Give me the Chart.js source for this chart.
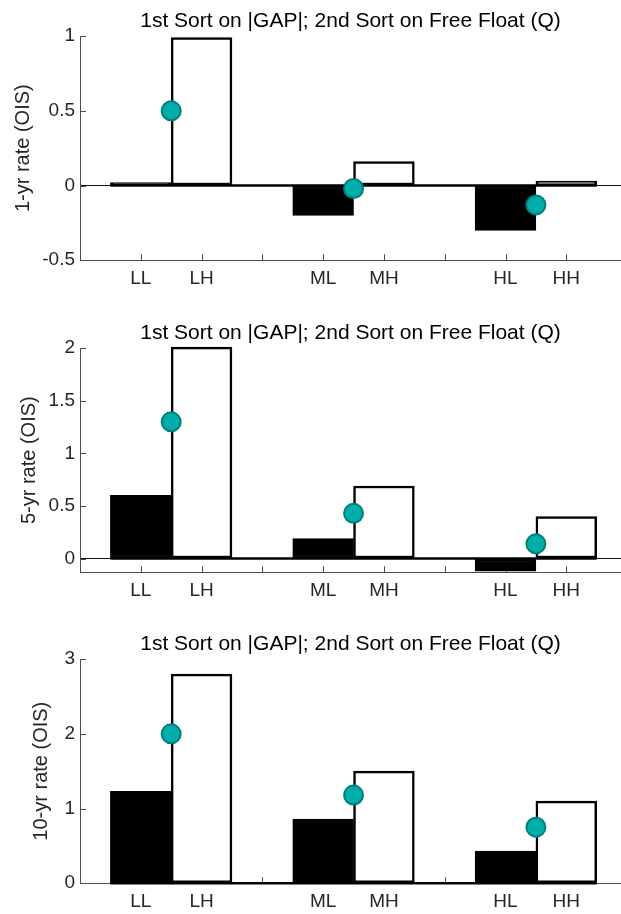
<!DOCTYPE html>
<html><head><meta charset="utf-8">
<script src="https://cdn.jsdelivr.net/npm/chart.js@4/dist/chart.umd.min.js"></script>
<style>
html,body{margin:0;padding:0;background:#fff;overflow:hidden;width:621px;height:914px;}
.panel{position:absolute;left:0;width:621px;height:297px;}
</style></head><body>
<div class="panel" style="top:0px"><canvas id="c1"></canvas></div>
<div class="panel" style="top:312px"><canvas id="c2"></canvas></div>
<div class="panel" style="top:623px"><canvas id="c3"></canvas></div>
<script>
// ---- data ----
const titleText = '1st Sort on |GAP|; 2nd Sort on Free Float (Q)';
const groups = ['L', 'M', 'H'];
const xTickPositions = [1, 2, 3, 4, 5, 6, 7, 8];
const xTickLabels = ['LL', 'LH', '', 'ML', 'MH', '', 'HL', 'HH'];

const yLabel1 = '1-yr rate (OIS)';
const lowFloat1 = [0.02, -0.20, -0.30];
const highFloat1 = [0.99, 0.16, 0.03];
const dots1 = [0.50, -0.02, -0.13];
const yTicks1 = [-0.5, 0, 0.5, 1];
const yRange1 = [-0.5, 1];

const yLabel2 = '5-yr rate (OIS)';
const lowFloat2 = [0.60, 0.19, -0.12];
const highFloat2 = [2.01, 0.69, 0.40];
const dots2 = [1.30, 0.43, 0.14];
const yTicks2 = [0, 0.5, 1, 1.5, 2];
const yRange2 = [-0.13, 2];

const yLabel3 = '10-yr rate (OIS)';
const lowFloat3 = [1.23, 0.86, 0.43];
const highFloat3 = [2.80, 1.50, 1.10];
const dots3 = [2.00, 1.18, 0.75];
const yTicks3 = [0, 1, 2, 3];
const yRange3 = [0, 3];

const xRange = [0, 8.9];

// ---- styles ----
Chart.defaults.font.family = "'Liberation Sans', Arial, Helvetica, sans-serif";
Chart.defaults.color = '#262626';
const axisColor = '#4d4d4d';
const dotFill = '#00ADA8';
const dotEdge = '#00807D';

const inwardTicks = {
  id: 'inwardTicks',
  beforeDatasetsDraw(chart) {
    const {ctx, chartArea, scales: {x, y}} = chart;
    ctx.save();
    ctx.strokeStyle = axisColor;
    ctx.lineWidth = 1;
    ctx.beginPath();
    x.ticks.forEach(t => {
      const px = Math.round(x.getPixelForValue(t.value)) + 0.5;
      ctx.moveTo(px, chartArea.bottom);
      ctx.lineTo(px, chartArea.bottom - 6);
    });
    y.ticks.forEach(t => {
      const py = Math.round(y.getPixelForValue(t.value)) + 0.5;
      ctx.moveTo(chartArea.left, py);
      ctx.lineTo(chartArea.left + 6, py);
    });
    ctx.stroke();
    ctx.restore();
  }
};

function makeChart(id, yLabel, low, high, dots, yTicks, yRange, yTitlePad) {
  const lowPts = low.map((v, g) => ({x: 3 * g + 1, y: v}));
  const highPts = high.map((v, g) => ({x: 3 * g + 2, y: v}));
  const dotPts = dots.map((v, g) => ({x: 3 * g + 1.5, y: v}));
  const basePts = [{x: 0.5, y: 0}, {x: 3 * groups.length - 0.5, y: 0}];
  const barCommon = {
    type: 'bar', grouped: false, borderColor: '#000', borderWidth: 2.5,
    borderSkipped: false, barPercentage: 1, categoryPercentage: 1,
    clip: {left: 0, right: 0, top: 4, bottom: 0}, order: 3
  };
  new Chart(document.getElementById(id), {
    type: 'bar',
    data: {
      datasets: [
        Object.assign({label: 'Low free float', data: lowPts, backgroundColor: '#000'}, barCommon),
        Object.assign({label: 'High free float', data: highPts, backgroundColor: '#fff'}, barCommon),
        {type: 'line', label: 'baseline', data: basePts, borderColor: '#000', borderWidth: 2.5,
         pointRadius: 0, order: 2, clip: false},
        {type: 'scatter', label: 'dots', data: dotPts, backgroundColor: dotFill, borderColor: dotEdge,
         borderWidth: 2, pointRadius: 9.5, order: 1, clip: false}
      ]
    },
    options: {
      responsive: true, maintainAspectRatio: false, animation: false,
      devicePixelRatio: 1,
      layout: {padding: 0, autoPadding: false},
      plugins: {
        legend: {display: false}, tooltip: {enabled: false},
        title: {display: true, text: titleText, fullSize: false, color: '#000',
                font: {size: 21, weight: 'normal'}, padding: {top: 9, bottom: 2}}
      },
      scales: {
        x: {
          type: 'linear', min: xRange[0], max: xRange[1], offset: false,
          afterBuildTicks: s => { s.ticks = xTickPositions.map(v => ({value: v})); },
          ticks: {autoSkip: false, maxRotation: 0, padding: 7, font: {size: 19}, color: '#262626',
                  callback: (v) => xTickLabels[xTickPositions.indexOf(v)] ?? ''},
          grid: {display: false, drawTicks: false, offset: false},
          border: {display: true, color: axisColor, width: 1}
        },
        y: {
          min: yRange[0], max: yRange[1],
          afterBuildTicks: s => { s.ticks = yTicks.map(v => ({value: v})); },
          afterFit: s => { s.width = 80; },
          ticks: {padding: 5, font: {size: 19}, color: '#262626', callback: v => String(v)},
          grid: {drawTicks: false, lineWidth: 1,
                 color: c => (c.tick && c.tick.value === 0) ? '#111' : 'rgba(0,0,0,0)'},
          border: {display: true, color: axisColor, width: 1},
          title: {display: true, text: yLabel, color: '#262626', font: {size: 20},
                  padding: {top: yTitlePad, bottom: 0}}
        }
      }
    },
    plugins: [inwardTicks]
  });
}

makeChart('c1', yLabel1, lowFloat1, highFloat1, dots1, yTicks1, yRange1, 11);
makeChart('c2', yLabel2, lowFloat2, highFloat2, dots2, yTicks2, yRange2, 17);
makeChart('c3', yLabel3, lowFloat3, highFloat3, dots3, yTicks3, yRange3, 29);
</script>
</body></html>
